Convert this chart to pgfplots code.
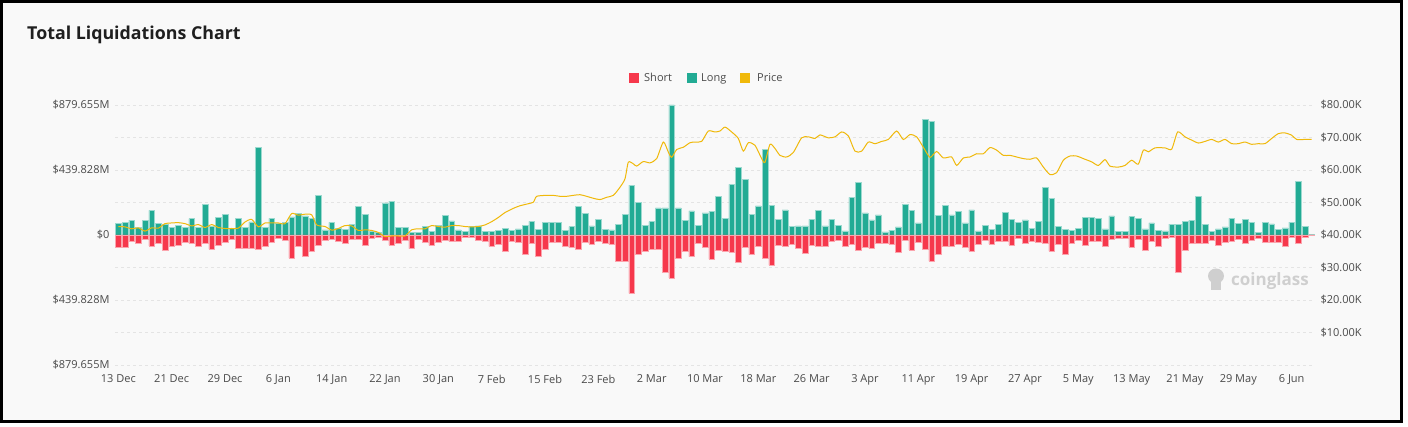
\documentclass[border=0pt]{standalone}
\usepackage{fontspec}
\setmainfont{Open Sans}
\usepackage{pgfplots}
\pgfplotsset{compat=1.18}
\usepackage{pgfplotstable}

\definecolor{longc}{HTML}{22AB94}
\definecolor{shortc}{HTML}{F6384C}
\definecolor{pricec}{HTML}{F0B90B}
\definecolor{bgc}{HTML}{F9F9F9}
\definecolor{tickc}{HTML}{4A4A4A}
\definecolor{gridc}{HTML}{E4E4E4}

% day index from 13 Dec, long / short liquidations in $M
\pgfplotstableread{
d long short
0 79 -86
1 83 -81
2 101 -41
3 50 -56
4 99 -29
5 167 -74
6 79 -56
7 72 -101
8 50 -79
9 65 -68
10 50 -47
11 110 -56
12 50 -79
13 205 -56
14 56 -95
15 117 -70
16 138 -52
17 43 -29
18 115 -90
19 50 -88
20 88 -90
21 591 -95
22 50 -74
23 113 -52
24 77 -23
25 83 -36
26 122 -156
27 147 -74
28 129 -142
29 113 -113
30 268 -72
31 34 -36
32 86 -29
33 45 -45
34 38 -59
35 70 -29
36 192 -29
37 140 -70
38 25 -25
39 20 -14
40 217 -34
41 230 -68
42 50 -56
43 50 -34
44 20 -92
45 20 -29
46 59 -47
47 27 -70
48 65 -52
49 131 -36
50 95 -43
51 34 -43
52 23 -16
53 56 -16
54 61 -34
55 27 -43
56 25 -77
57 32 -63
58 43 -113
59 33 -42
60 42 -51
61 64 -130
62 93 -57
63 37 -141
64 86 -96
65 84 -47
66 84 -51
67 33 -76
68 57 -85
69 192 -96
70 147 -47
71 62 -60
72 107 -40
73 39 -55
74 35 -64
75 71 -177
76 138 -179
77 337 -395
78 222 -130
79 63 -112
80 90 -99
81 184 -99
82 184 -254
83 879.655 -290
84 184 -158
85 100 -110
86 163 -147
87 64 -59
88 149 -83
89 159 -164
90 260 -103
91 112 -107
92 342 -114
93 459 -182
94 376 -82
95 141 -132
96 197 -73
97 581 -157
98 202 -204
99 107 -69
100 170 -78
101 57 -62
102 62 -91
103 62 -121
104 105 -69
105 166 -73
106 62 -76
107 105 -44
108 64 -33
109 28 -76
110 254 -60
111 358 -100
112 150 -80
113 103 -91
114 136 -55
115 21 -55
116 33 -62
117 55 -118
118 206 -37
119 166 -100
120 82 -51
121 784 -97
122 770 -177
123 134 -132
124 200 -73
125 136 -76
126 161 -60
127 82 -80
128 170 -107
129 28 -64
130 64 -35
131 39 -62
132 73 -44
133 154 -39
134 107 -67
135 85 -24
136 103 -55
137 44 -44
138 91 -49
139 321 -55
140 249 -109
141 60 -60
142 37 -130
143 30 -55
144 44 -37
145 121 -69
146 118 -39
147 114 -42
148 42 -73
149 130 -28
150 24 -24
151 24 -24
152 125 -80
153 112 -28
154 42 -105
155 82 -42
156 33 -78
157 28 -24
158 73 -15
159 73 -251
160 91 -100
161 100 -55
162 263 -55
163 73 -55
164 26 -37
165 42 -67
166 55 -46
167 112 -42
168 80 -28
169 105 -55
170 87 -33
171 17 -24
172 87 -51
173 76 -51
174 39 -51
175 49 -73
176 87 -15
177 362 -55
178 58 -15
179 5 -2
}\liqtable

% BTC price in $K
\pgfplotstableread{
d price
0 42.6
1 42.5
2 41.9
3 42.2
4 41.2
5 42.2
6 42.1
7 43.5
8 43.7
9 43.8
10 43.5
11 42.8
12 43.2
13 42.3
14 43.2
15 42.3
16 42.0
17 42.0
18 42.1
19 44.0
20 44.8
21 42.5
22 43.7
23 43.7
24 43.7
25 43.5
26 46.6
27 46.1
28 46.4
29 46.2
29.75 43.1
31 42.6
32 41.5
33 42.0
34 42.9
35 42.8
36 41.4
37 41.6
38 41.4
39 40.8
40 39.5
41 39.7
42 39.7
43 39.7
44 41.6
45 41.9
46 41.9
47 42.9
48 42.6
49 42.4
50 42.9
51 42.9
52 42.6
53 42.5
54 42.6
55 43.1
56 44.1
57 45.4
58 46.9
59.25 48.2
60.25 49.0
61.25 49.5
62.25 50.1
62.75 51.9
64.25 52.2
65.25 52.2
66.25 51.9
67.25 51.9
68.25 52.2
69.25 52.4
70.25 51.9
71.25 51.3
72.25 50.9
73.25 51.6
74.25 52.2
75.25 54.7
76 57.3
76.5 62.4
77.25 61.9
77.75 61.2
78.75 62.6
79.75 62.2
80.75 63.5
81.75 68.6
82.5 65.5
83 63.9
83.75 66.3
84.75 67.0
85.75 68.4
86.5 68.6
87.5 68.8
88.5 72.0
89.5 71.7
90.25 72.0
91 73.2
92 71.7
93 69.7
93.75 65.8
94.5 68.4
95.5 67.6
96.5 63.5
97 62.4
97.75 67.9
98.5 66.6
99.25 64.5
100.25 64.0
101.25 65.4
102.5 69.9
103.5 70.2
104.5 69.7
105.25 70.8
106.5 69.9
107.5 70.2
108.5 71.7
109.5 70.5
110.5 65.8
111.5 65.8
112.5 68.6
113.5 68.1
114.5 68.8
115.5 69.4
116.75 72.0
117.75 69.4
118.75 70.9
119.75 70.2
120.75 67.0
121.75 63.9
122.75 65.7
123.75 63.7
125 64.0
125.75 61.4
126.75 63.7
127.75 64.0
128.75 65.0
129.75 65.0
130.75 66.9
131.75 66.1
132.75 64.5
133.75 64.5
134.75 64.0
135.75 63.5
136.75 63.3
137.75 63.7
138.75 60.9
139.75 58.6
140.75 59.2
141.75 63.0
142.75 64.3
143.75 64.3
144.75 63.5
146 62.5
147 61.4
148 63.2
148.75 61.2
150 60.9
151 61.4
152 63.0
153 61.8
153.75 66.1
154.5 65.6
155.5 66.8
157 66.8
158 66.4
158.9 71.7
160 70.2
161 69.2
162 68.3
163 68.8
164 69.4
165 68.6
166 69.4
167 68.1
168 68.1
169 68.6
170 67.9
171 68.1
172 68.1
173 69.7
174 71.2
175 71.4
176 70.7
176.75 69.4
178 69.4
179 69.4
}\pricetable

\begin{document}
\begin{tikzpicture}[x=1pt,y=1pt]
\draw[line width=3pt, fill=bgc] (1.5,5) rectangle (1401,425.5);
\node[anchor=base west, inner sep=0, font=\bfseries\fontsize{17.8}{20}\selectfont, text=black!88] at (27,387) {Total Liquidations Chart};

% legend
\begin{scope}[font=\fontsize{11}{13}\selectfont, text=tickc]
\fill[shortc] (629,344) rectangle (639,354);
\node[anchor=base west, inner sep=0] at (644,345) {Short};
\fill[longc] (687,344) rectangle (697,354);
\node[anchor=base west, inner sep=0] at (701,345) {Long};
\fill[pricec] (740,344) rectangle (750,354);
\node[anchor=base west, inner sep=0] at (757,345) {Price};
\end{scope}

% watermark
\fill[gray!38] (1216,151) ellipse (8 and 7.5);
\fill[gray!38] (1211,137) rectangle (1221,146);
\node[anchor=base west, inner sep=0, font=\bfseries\fontsize{17}{20}\selectfont, text=gray!38] at (1231,141) {coinglass};

\begin{axis}[
  at={(115pt,62pt)}, anchor=south west,
  scale only axis, width=1200pt, height=260pt,
  xmin=-0.5, xmax=179.5,
  ymin=-879.655, ymax=879.655,
  axis line style={draw=none},
  tick style={draw=none},
  ybar, bar width=0.85, bar shift=0pt,
  ytick={-879.655,-659.741,-439.828,-219.914,0,219.914,439.828,659.741,879.655},
  yticklabels={\$879.655M,,\$439.828M,,\$0,,\$439.828M,,\$879.655M},
  ymajorgrids,
  grid style={dashed, gridc, line width=0.8pt},
  xtick={0,8,...,176},
  xticklabels={13 Dec,21 Dec,29 Dec,6 Jan,14 Jan,22 Jan,30 Jan,7 Feb,15 Feb,23 Feb,2 Mar,10 Mar,18 Mar,26 Mar,3 Apr,11 Apr,19 Apr,27 Apr,5 May,13 May,21 May,29 May,6 Jun},
  ticklabel style={font=\fontsize{11}{13}\selectfont, text=tickc},
  xticklabel style={yshift=-2pt},
  yticklabel style={xshift=-2pt},
]
\addplot[fill=longc, draw=longc!45!white, line width=0.5pt, bar shift=0pt] table[x=d, y=long] {\liqtable};
\addplot[fill=shortc, draw=shortc!45!white, line width=0.5pt, bar shift=0pt] table[x=d, y=short] {\liqtable};
\end{axis}

\begin{axis}[
  at={(115pt,62pt)}, anchor=south west,
  scale only axis, width=1200pt, height=260pt,
  xmin=-0.5, xmax=179.5,
  ymin=0, ymax=80,
  axis line style={draw=none},
  tick style={draw=none},
  xtick=\empty,
  yticklabel pos=right,
  ytick={10,20,...,80},
  yticklabels={\$10.00K,\$20.00K,\$30.00K,\$40.00K,\$50.00K,\$60.00K,\$70.00K,\$80.00K},
  ticklabel style={font=\fontsize{11}{13}\selectfont, text=tickc},
  yticklabel style={xshift=2pt},
]
\addplot[pricec, line width=1pt, mark=none, smooth, tension=0.4] table[x=d, y=price] {\pricetable};
\end{axis}
\pgfresetboundingbox
\useasboundingbox (0,0) rectangle (1408,427);
\end{tikzpicture}
\end{document}
